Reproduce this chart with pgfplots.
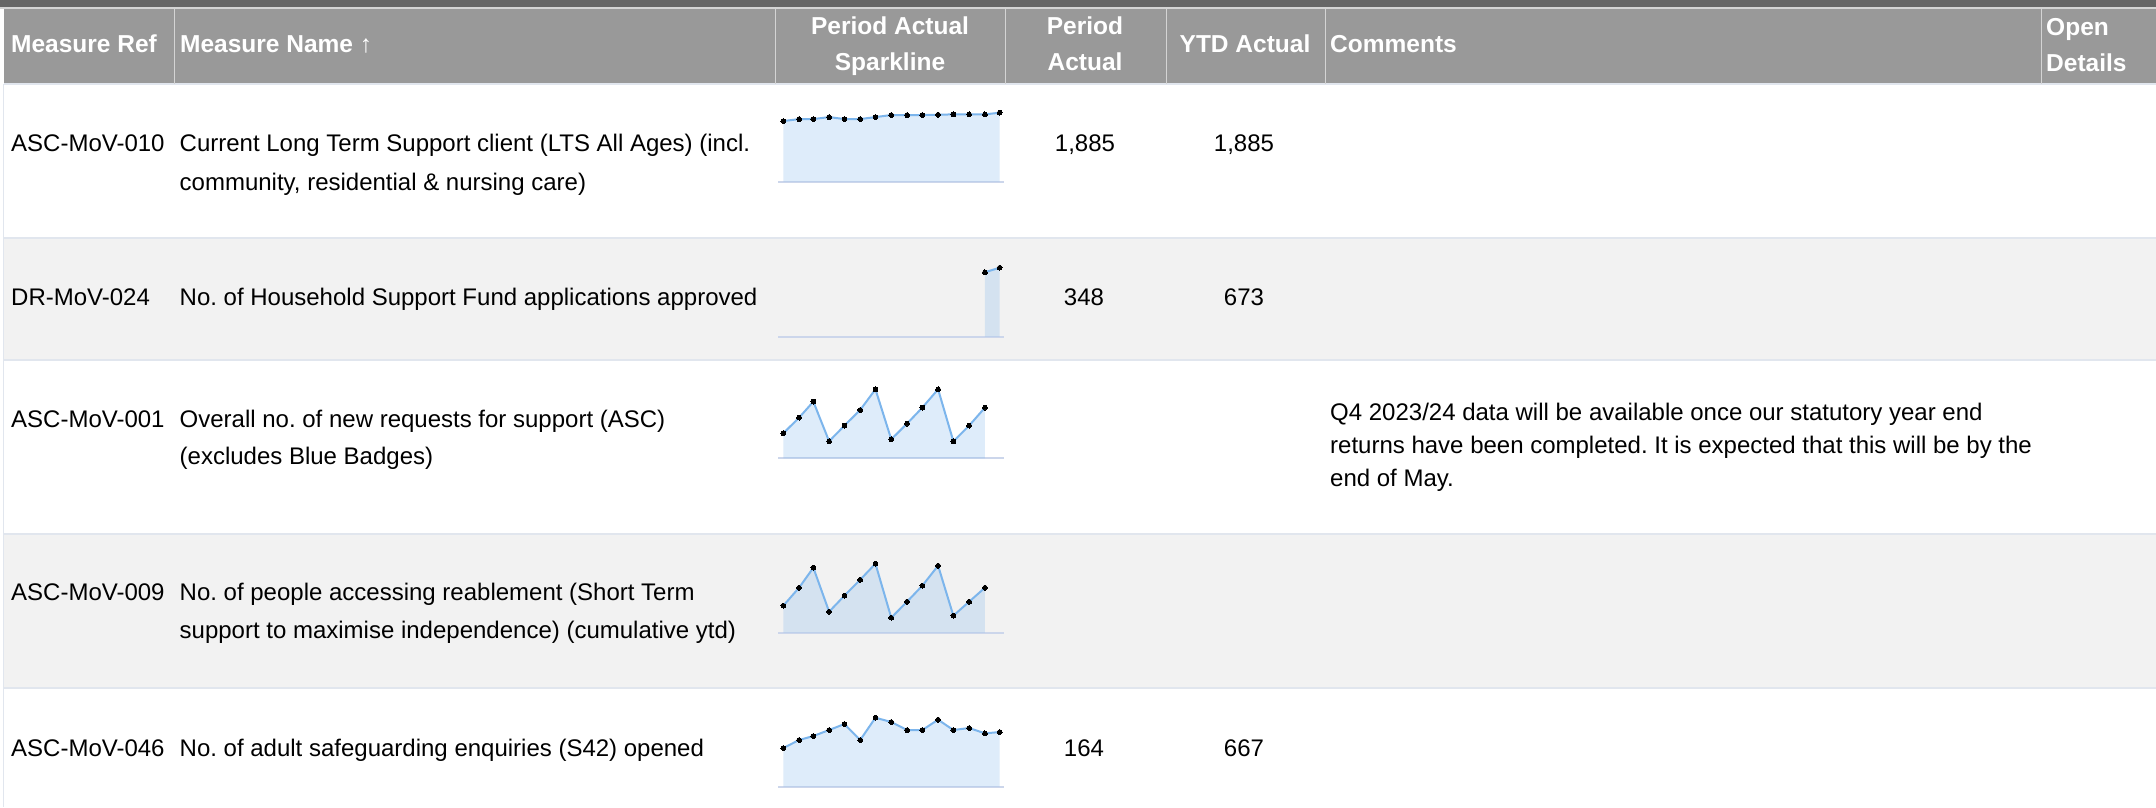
\documentclass[border=0pt]{standalone}
\usepackage{fontspec}
\setmainfont{Liberation Sans}
\usepackage{pgfplots}
\pgfplotsset{compat=1.18}
\definecolor{topbar}{HTML}{666666}
\definecolor{hdr}{HTML}{999999}
\definecolor{rowgray}{HTML}{F2F2F2}
\definecolor{rule}{HTML}{E1E6EE}
\definecolor{hsep}{HTML}{D4D4D4}
\definecolor{sparkline}{HTML}{7CB5EC}
\definecolor{sparkaxis}{HTML}{CCD6EB}
\pgfplotsset{
  spark/.style={scale only axis, width=216.4pt, height=69pt, xmin=0, xmax=425,
    ymin=0, axis lines=none, clip=false, anchor=south west},
  sparkfill/.style={draw=none, fill=sparkline, fill opacity=0.25, forget plot},
  sparkln/.style={color=sparkline, line width=2pt, mark=*, mark size=2.4pt,
    mark options={fill=black, draw=black, line width=0pt}},
}
\newcommand{\sparkbase}{\draw[sparkaxis, line width=2pt] (axis cs:-10.4,0) -- (axis cs:433.4,0);}
\begin{document}
\frenchspacing
\fontsize{24}{28}\selectfont
\begin{tikzpicture}
\useasboundingbox (0pt,0pt) rectangle (2156pt,807pt);
\fill[white] (0pt,0pt) rectangle (2156pt,807pt);
% top bar and header
\fill[topbar] (0pt,799.5pt) rectangle (2156pt,807pt);
\fill[hsep] (0pt,798pt) rectangle (2156pt,799.5pt);
\fill[hdr] (4pt,723pt) rectangle (2156pt,798pt);
% rows
\fill[rowgray] (4pt,447pt) rectangle (2156pt,569pt);
\fill[rowgray] (4pt,119pt) rectangle (2156pt,273pt);
\foreach \yy in {723,569,447,273,119} {\draw[rule, line width=1.2pt] (4pt,\yy pt) -- (2156pt,\yy pt);}
\draw[rule, line width=1.2pt] (3.5pt,0pt) -- (3.5pt,723pt);
% header separators
\foreach \xx in {174,775,1005,1166,1325,2041} {\draw[hsep, line width=1pt] (\xx pt,723pt) -- (\xx pt,798pt);}
% header text
\begin{scope}[every node/.style={inner sep=0pt, text=white, font=\fontsize{24.5}{28}\selectfont\bfseries}]
\node[anchor=base west] at (11pt,754pt) {Measure Ref};
\node[anchor=base west] at (180pt,754pt) {Measure Name ↑};
\node[anchor=base] at (890pt,772pt) {Period Actual};
\node[anchor=base] at (890pt,736pt) {Sparkline};
\node[anchor=base] at (1085pt,772pt) {Period};
\node[anchor=base] at (1085pt,736pt) {Actual};
\node[anchor=base] at (1245pt,754pt) {YTD Actual};
\node[anchor=base west] at (1330pt,754pt) {Comments};
\node[anchor=base west] at (2046pt,771.5pt) {Open};
\node[anchor=base west] at (2046pt,735.5pt) {Details};
\end{scope}
% body text
\begin{scope}[every node/.style={inner sep=0pt, text=black}]
% row 1
\node[anchor=base west] at (11pt,655pt) {ASC-MoV-010};
\node[anchor=base west] at (179.5pt,655pt) {Current Long Term Support client (LTS All Ages) (incl.};
\node[anchor=base west] at (179.5pt,616.5pt) {community, residential \& nursing care)};
\node[anchor=base] at (1085pt,655pt) {1,885};
\node[anchor=base] at (1244pt,655pt) {1,885};
% row 2
\node[anchor=base west] at (11pt,501pt) {DR-MoV-024};
\node[anchor=base west] at (179.5pt,501pt) {No. of Household Support Fund applications approved};
\node[anchor=base] at (1084pt,501pt) {348};
\node[anchor=base] at (1244pt,501pt) {673};
% row 3
\node[anchor=base west] at (11pt,379.5pt) {ASC-MoV-001};
\node[anchor=base west] at (179.5pt,379.5pt) {Overall no. of new requests for support (ASC)};
\node[anchor=base west] at (179.5pt,342pt) {(excludes Blue Badges)};
\node[anchor=base west] at (1330pt,386.5pt) {Q4 2023/24 data will be available once our statutory year end};
\node[anchor=base west] at (1330pt,353.5pt) {returns have been completed. It is expected that this will be by the};
\node[anchor=base west] at (1330pt,320.5pt) {end of May.};
% row 4
\node[anchor=base west] at (11pt,206.5pt) {ASC-MoV-009};
\node[anchor=base west] at (179.5pt,206.5pt) {No. of people accessing reablement (Short Term};
\node[anchor=base west] at (179.5pt,169pt) {support to maximise independence) (cumulative ytd)};
% row 5
\node[anchor=base west] at (11pt,51pt) {ASC-MoV-046};
\node[anchor=base west] at (179.5pt,51pt) {No. of adult safeguarding enquiries (S42) opened};
\node[anchor=base] at (1084pt,51pt) {164};
\node[anchor=base] at (1244pt,51pt) {667};
\end{scope}
% sparklines
\begin{axis}[spark, at={(783.3pt,625.3pt)}, ymax=1885]
\sparkbase
\addplot[sparkfill] coordinates {(0,1655) (31,1711) (59,1711) (90,1765) (120,1711) (151,1711) (181,1765) (212,1821) (243,1821) (273,1821) (304,1830) (334,1839) (365,1839) (396,1839) (425,1885)} \closedcycle;
\addplot[sparkln] coordinates {(0,1655) (31,1711) (59,1711) (90,1765) (120,1711) (151,1711) (181,1765) (212,1821) (243,1821) (273,1821) (304,1830) (334,1839) (365,1839) (396,1839) (425,1885)};
\end{axis}
\begin{axis}[spark, at={(783.3pt,470.3pt)}, ymax=348]
\sparkbase
\addplot[sparkfill] coordinates {(396,325) (425,348)} \closedcycle;
\addplot[sparkln] coordinates {(396,325) (425,348)};
\end{axis}
\begin{axis}[spark, at={(783.3pt,348.7pt)}, ymax=1035]
\sparkbase
\addplot[sparkfill] coordinates {(0,375) (31,610) (59,850) (90,255) (120,490) (151,725) (181,1035) (212,285) (243,520) (273,760) (304,1035) (334,255) (365,490) (396,760)} \closedcycle;
\addplot[sparkln] coordinates {(0,375) (31,610) (59,850) (90,255) (120,490) (151,725) (181,1035) (212,285) (243,520) (273,760) (304,1035) (334,255) (365,490) (396,760)};
\end{axis}
\begin{axis}[spark, at={(783.3pt,174.3pt)}, ymax=207]
\sparkbase
\addplot[sparkfill] coordinates {(0,81) (31,135) (59,195) (90,63) (120,111) (151,159) (181,207) (212,45) (243,93) (273,141) (304,201) (334,51) (365,93) (396,135)} \closedcycle;
\addplot[sparkln] coordinates {(0,81) (31,135) (59,195) (90,63) (120,111) (151,159) (181,207) (212,45) (243,93) (273,141) (304,201) (334,51) (365,93) (396,135)};
\end{axis}
\begin{axis}[spark, at={(783.3pt,20.3pt)}, ymax=207]
\sparkbase
\addplot[sparkfill] coordinates {(0,116) (31,140) (59,152) (90,170) (120,188) (151,140) (181,207) (212,194) (243,170) (273,170) (304,201) (334,170) (365,176) (396,160) (425,164)} \closedcycle;
\addplot[sparkln] coordinates {(0,116) (31,140) (59,152) (90,170) (120,188) (151,140) (181,207) (212,194) (243,170) (273,170) (304,201) (334,170) (365,176) (396,160) (425,164)};
\end{axis}
\end{tikzpicture}
\end{document}
